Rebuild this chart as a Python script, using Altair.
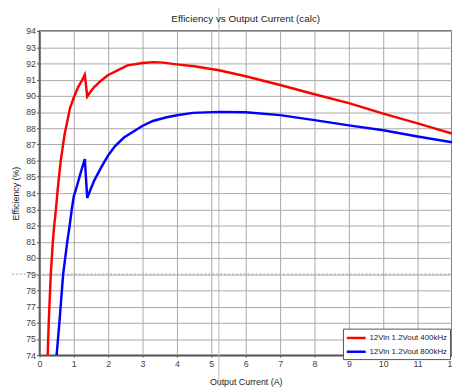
import altair as alt
import pandas as pd

chart_title = "Efficiency vs Output Current (calc)"
series_names = ["12Vin 1.2Vout 400kHz", "12Vin 1.2Vout 800kHz"]
series_colors = ["#ff0000", "#0000ff"]

red_x = [0.24, 0.27, 0.33, 0.39, 0.43, 0.48, 0.53, 0.62, 0.73, 0.89, 1.0, 1.13, 1.25, 1.32,
         1.39, 1.5, 1.6, 1.8, 1.99, 2.3, 2.56, 3.0, 3.32, 3.6, 3.99, 4.5, 5.22, 6, 7, 8, 9, 10, 11, 12]
red_y = [74, 76, 79, 81, 82, 83, 84.2, 86, 87.6, 89.25, 89.9, 90.56, 91.0, 91.3,
         89.96, 90.3, 90.56, 90.95, 91.27, 91.6, 91.88, 92.03, 92.08, 92.05, 91.94, 91.82, 91.58,
         91.21, 90.67, 90.1, 89.55, 88.9, 88.3, 87.67]

blue_x = [0.5, 0.58, 0.69, 0.75, 0.81, 0.88, 0.94, 1.0, 1.1, 1.22, 1.32, 1.39, 1.5, 1.6, 1.8,
          1.99, 2.2, 2.46, 2.99, 3.3, 3.7, 4.0, 4.46, 5.22, 6, 7, 8, 9, 10, 11, 12]
blue_y = [74, 76, 79, 80, 81, 82, 83, 83.8, 84.5, 85.4, 86.1, 83.7, 84.3, 84.8, 85.6,
          86.3, 86.9, 87.43, 88.14, 88.45, 88.68, 88.8, 88.95, 89.01, 88.99, 88.81, 88.5,
          88.18, 87.88, 87.49, 87.13]

cursor_x = [5.22]
cursor_y = [79]

x_ticks = list(range(0, 13))
y_ticks = list(range(74, 95))

rows = []
for i, (xs, ys) in enumerate([(red_x, red_y), (blue_x, blue_y)]):
    for k, (a, b) in enumerate(zip(xs, ys)):
        rows.append({"series": series_names[i], "current": a, "eff": b, "order": k})
df = pd.DataFrame(rows)

W, H = 420, 330
FONT = "Liberation Sans"

xscale = alt.Scale(domain=[0, 12], nice=False, zero=False)
yscale = alt.Scale(domain=[74, 94], nice=False, zero=False)

x_axis = alt.Axis(title="Output Current (A)", values=x_ticks, format="d",
                  tickSize=2, labelPadding=3, titlePadding=9,
                  labelOverlap=False, labelFlush=False)
y_axis = alt.Axis(title="Efficiency (%)", values=y_ticks, format="d",
                  tickSize=3, labelPadding=1, titlePadding=5,
                  labelOverlap=False, labelFlush=False)

lines = alt.Chart(df).mark_line(strokeWidth=2.5, clip=True).encode(
    x=alt.X("current:Q", scale=xscale, axis=x_axis),
    y=alt.Y("eff:Q", scale=yscale, axis=y_axis),
    color=alt.Color("series:N",
                    scale=alt.Scale(domain=series_names, range=series_colors),
                    legend=alt.Legend(title=None, orient="none", legendX=309, legendY=303,
                                      symbolType="M-1.6,0L1.6,0", symbolSize=144,
                                      symbolStrokeWidth=2.5, symbolOffset=4,
                                      labelFontSize=8,
                                      labelFont=FONT, labelColor="#222",
                                      strokeColor="#555", fillColor="white",
                                      padding=2, rowPadding=1, labelOffset=6,
                                      labelLimit=200, cornerRadius=0)),
    order="order:Q",
)

vline = alt.Chart(pd.DataFrame({"cx": cursor_x})).mark_rule(
    color="#b8b8b8", strokeWidth=1).encode(
    x=alt.X("cx:Q", scale=xscale, axis=x_axis), y=alt.value(-25), y2=alt.value(H + 32))

hline = alt.Chart(pd.DataFrame({"cy": cursor_y})).mark_rule(
    color="#a0a0a0", strokeWidth=1, strokeDash=[2, 2]).encode(
    y=alt.Y("cy:Q", scale=yscale, axis=y_axis), x=alt.value(-28), x2=alt.value(W))

title_text = alt.Chart(pd.DataFrame({"t": [chart_title]})).mark_text(
    font=FONT, fontSize=10, color="#222", align="center", baseline="middle").encode(
    text="t:N", x=alt.value(W / 2), y=alt.value(-12))

chart = alt.layer(vline, hline, lines, title_text).properties(
    width=W, height=H,
    autosize=alt.AutoSizeParams(type="none"),
    padding={"left": 32, "top": 20, "right": 0, "bottom": 30},
).configure_axis(
    labelFont=FONT, titleFont=FONT, labelFontSize=9, titleFontSize=9,
    labelColor="#444", titleColor="#222", titleFontWeight="normal",
    gridColor="#a8a8a8", gridWidth=1, gridOpacity=1,
    domainColor="#555", domainWidth=1.5, tickColor="#555",
).configure_view(stroke="#555", strokeWidth=1.5)

chart.save("out.html", embed_options={"renderer": "svg", "actions": False})
